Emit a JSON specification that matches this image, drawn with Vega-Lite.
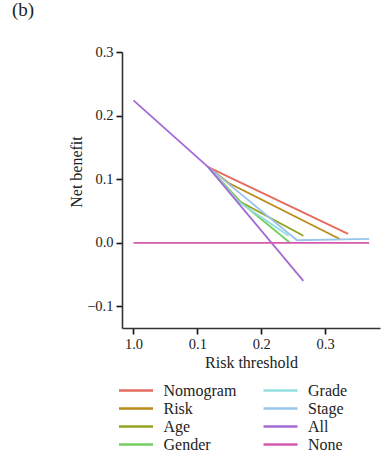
{
  "$schema": "https://vega.github.io/schema/vega-lite/v6.json",
  "autosize": "none",
  "width": 258,
  "height": 276,
  "padding": {"left": 122, "top": 52, "right": 5, "bottom": 131},
  "background": "white",
  "title": {"text": "(b)", "anchor": "start", "frame": "group", "dx": -110, "offset": 24, "font": "Liberation Serif", "fontSize": 19, "fontWeight": "normal", "color": "#222"},
  "config": {
    "view": {"stroke": null},
    "font": "Liberation Serif",
    "axis": {"grid": false, "domainColor": "#333", "domainWidth": 1.6, "tickColor": "#111", "tickWidth": 1.6, "tickSize": 6, "labelFont": "Liberation Serif", "labelFontSize": 14.5, "labelColor": "#222", "titleFont": "Liberation Serif", "titleFontSize": 16, "titleFontWeight": "normal", "titleColor": "#222", "labelPadding": 3},
    "legend": {"labelFont": "Liberation Serif", "labelFontSize": 16, "labelColor": "#222"}
  },
  "data": {"values": [
    {"model": "Nomogram", "t": 0.117, "nb": 0.119},
    {"model": "Nomogram", "t": 0.336, "nb": 0.014},
    {"model": "Risk", "t": 0.117, "nb": 0.119},
    {"model": "Risk", "t": 0.149, "nb": 0.094},
    {"model": "Risk", "t": 0.323, "nb": 0.006},
    {"model": "Age", "t": 0.117, "nb": 0.119},
    {"model": "Age", "t": 0.168, "nb": 0.064},
    {"model": "Age", "t": 0.266, "nb": 0.011},
    {"model": "Gender", "t": 0.117, "nb": 0.119},
    {"model": "Gender", "t": 0.165, "nb": 0.066},
    {"model": "Gender", "t": 0.245, "nb": 0.0},
    {"model": "Grade", "t": 0.117, "nb": 0.119},
    {"model": "Grade", "t": 0.165, "nb": 0.064},
    {"model": "Grade", "t": 0.243, "nb": 0.011},
    {"model": "Stage", "t": 0.117, "nb": 0.119},
    {"model": "Stage", "t": 0.256, "nb": 0.004},
    {"model": "Stage", "t": 0.369, "nb": 0.006},
    {"model": "All", "t": 0.0, "nb": 0.224},
    {"model": "All", "t": 0.117, "nb": 0.119},
    {"model": "All", "t": 0.266, "nb": -0.06},
    {"model": "None", "t": 0.0, "nb": 0.0},
    {"model": "None", "t": 0.369, "nb": 0.0}
  ]},
  "mark": {"type": "line", "strokeWidth": 1.8},
  "encoding": {
    "x": {"field": "t", "type": "quantitative", "scale": {"domain": [-0.018, 0.386], "nice": false, "zero": false},
      "axis": {"values": [0, 0.1, 0.2, 0.3], "title": "Risk threshold", "titlePadding": 4, "labelExpr": "datum.value == 0 ? '1.0' : format(datum.value, '.1f')"}},
    "y": {"field": "nb", "type": "quantitative", "scale": {"domain": [-0.134, 0.3], "nice": false, "zero": false},
      "axis": {"values": [-0.1, 0, 0.1, 0.2, 0.3], "format": ".1f", "title": "Net benefit", "titleY": 119.5, "titleX": -38, "titleBaseline": "bottom"}},
    "color": {"field": "model", "type": "nominal",
      "scale": {"domain": ["Nomogram", "Risk", "Age", "Gender", "Grade", "Stage", "All", "None"],
        "range": ["#E46B5E", "#B98A1A", "#95A21F", "#74CF62", "#93DEE0", "#9AC5EA", "#A46BD4", "#D35AAE"]},
      "legend": {"title": null, "orient": "none", "legendX": 4, "legendY": 328.5, "columns": 2, "symbolType": "M-2,0H2", "symbolSize": 289, "symbolStrokeWidth": 2.5, "labelOffset": 17.5, "rowPadding": -0.3, "columnPadding": 21.5}},
    "order": {"field": "t"}
  }
}
